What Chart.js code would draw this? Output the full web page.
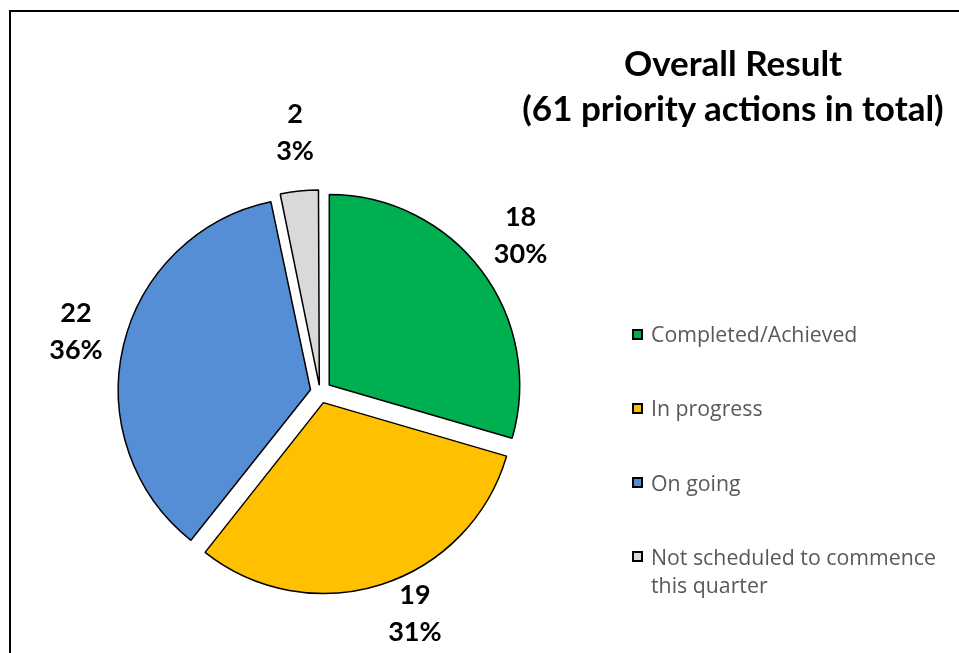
<!DOCTYPE html>
<html><head><meta charset="utf-8">
<script src="https://cdn.jsdelivr.net/npm/chart.js@4.4.0/dist/chart.umd.min.js"></script>
<style>
html,body{margin:0;padding:0;background:#fff;}
#wrap{position:relative;width:959px;height:653px;overflow:hidden;background:#fff;}
#frame{position:absolute;left:9px;top:10px;width:1000px;height:700px;border:2px solid #000;box-sizing:border-box;}
#c{position:absolute;left:0;top:0;}
#title{position:absolute;left:503px;width:460px;top:40px;text-align:center;font-family:Lato,sans-serif;font-weight:bold;font-size:35px;line-height:45px;color:#000;}
#legend{position:absolute;left:632px;top:0;font-family:'Open Sans',sans-serif;font-size:21.3px;color:#595959;}
.item{position:absolute;left:0;}
.sw{position:absolute;left:0;width:11px;height:11px;border:2px solid #000;box-sizing:border-box;}
.tx{position:absolute;left:19px;width:292px;line-height:28px;white-space:normal;}
</style>
</head><body>
<div id="wrap">
<div id="frame"></div>
<canvas id="c" width="959" height="653"></canvas>
<div id="title">Overall Result<br>(61 priority actions in total)</div>
<div id="legend"></div>
</div>
<script>
const categories = ['Completed/Achieved', 'In progress', 'On going', 'Not scheduled to commence this quarter'];
const counts = [18, 19, 22, 2];
const colors = ['#00B050', '#FFC000', '#558ED5', '#D9D9D9'];

const total = counts.reduce((a, b) => a + b, 0);
// Chart.js translates an arc by offset/4*(1+fix); compute offset giving an even ~12px explode
const offsets = counts.map(v => {
  const circ = v / total * 2 * Math.PI;
  const fix = 1 - Math.sin(Math.min(Math.PI, circ));
  return 48 / (1 + fix);
});

// legend (HTML)
const legend = document.getElementById('legend');
categories.forEach((name, i) => {
  const item = document.createElement('div');
  item.className = 'item';
  const cy = 334 + i * 74.3;
  item.style.top = (cy - 14) + 'px';
  const sw = document.createElement('div');
  sw.className = 'sw';
  sw.style.background = colors[i];
  sw.style.top = (14 - 5.5) + 'px';
  const tx = document.createElement('div');
  tx.className = 'tx';
  tx.style.top = '0px';
  tx.textContent = name;
  item.appendChild(sw); item.appendChild(tx);
  legend.appendChild(item);
});

const labelPlugin = {
  id: 'sliceLabels',
  afterDatasetsDraw(chart) {
    const ctx = chart.ctx;
    const meta = chart.getDatasetMeta(0);
    ctx.save();
    ctx.font = 'bold 27px Lato, sans-serif';
    ctx.fillStyle = '#000';
    ctx.textAlign = 'center';
    ctx.textBaseline = 'middle';
    meta.data.forEach((arc, i) => {
      const mid = (arc.startAngle + arc.endAngle) / 2;
      const dx = Math.cos(mid), dy = Math.sin(mid);
      const lines = [String(counts[i]), Math.round(counts[i] / total * 100) + '%'];
      const w = Math.max(...lines.map(t => ctx.measureText(t).width));
      const lh = 37, h = lh * 2;
      const r = arc.outerRadius + 12 + 22;
      let cx = arc.x + dx * r + dx * w / 2;
      let cy = arc.y + dy * r + dy * h / 2;
      const maxY = chart.height - h / 2 - 2;
      if (cy > maxY) {
        // slide the label around the pie when it would leave the canvas
        cx += (cy - maxY) * 0.7 * (dx >= 0 ? 1 : -1);
        cy = maxY;
      }
      cy = Math.max(cy, h / 2 + 2);
      ctx.fillText(lines[0], cx, cy - lh / 2);
      ctx.fillText(lines[1], cx, cy + lh / 2);
    });
    ctx.restore();
  }
};

new Chart(document.getElementById('c'), {
  type: 'pie',
  data: {
    labels: categories,
    datasets: [{
      data: counts,
      backgroundColor: colors,
      borderColor: '#000',
      borderWidth: 1.5,
      offset: offsets,
      radius: 190
    }]
  },
  options: {
    responsive: false,
    devicePixelRatio: 1,
    animation: false,
    layout: { padding: { left: 100, right: 419, top: 150, bottom: 19 } },
    plugins: { legend: { display: false }, tooltip: { enabled: false }, title: { display: false } }
  },
  plugins: [labelPlugin]
});
</script>
</body></html>
